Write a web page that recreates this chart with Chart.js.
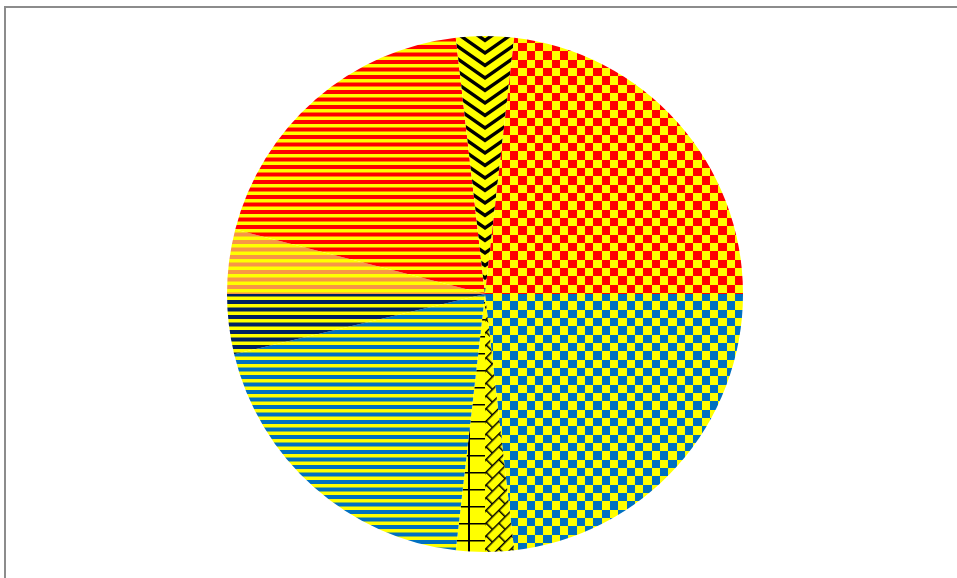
<!DOCTYPE html>
<html>
<head>
<meta charset="utf-8">
<script src="https://cdn.jsdelivr.net/npm/chart.js@4"></script>
<style>
  html, body { margin: 0; padding: 0; background: #fff; overflow: hidden; }
  #frame {
    position: absolute; left: 4px; top: 6px; width: 1200px; height: 800px;
    border-left: 2px solid #8c8c8c; border-top: 2px solid #8c8c8c;
  }
  #pie { position: absolute; left: 0; top: 0; }
</style>
</head>
<body>
<div id="frame"></div>
<canvas id="pie" width="957" height="578"></canvas>
<script>
// slices clockwise from 12 o'clock (in degrees)
const slices = ['Zig zag (right)', 'Red checker', 'Blue checker', 'Shingle', 'Grid',
  'Blue stripes', 'Navy stripes', 'Orange stripes', 'Red stripes', 'Zig zag (left)'];
const values = [6.5, 83.5, 83.5, 6.5, 6.5, 70, 13.5, 14.5, 69, 6.5];

const YELLOW = '#FFFF00';
const RED = '#FF0000';
const BLUE = '#0070C0';
const NAVY = '#002060';
const ORANGE = '#F79646';

// pie geometry in the page
const CX = 485, CY = 294, R = 258;

const canvas = document.getElementById('pie');
const ctx = canvas.getContext('2d');

function tile(w, h, draw) {
  const c = document.createElement('canvas');
  c.width = w;
  c.height = h;
  const g = c.getContext('2d');
  g.fillStyle = YELLOW;
  g.fillRect(0, 0, w, h);
  draw(g, w, h);
  return c;
}

function pattern(src, matrix) {
  const p = ctx.createPattern(src, 'repeat');
  if (matrix) p.setTransform(matrix);
  return p;
}

// 6x6 cells in a 50px tile, so each cell is ~8.33px
function checker(color) {
  const t = tile(50, 50, g => {
    g.fillStyle = color;
    const e = i => Math.round(i * 50 / 6);
    for (let i = 0; i < 6; i++) {
      for (let j = 0; j < 6; j++) {
        if ((i + j) % 2 === 0) g.fillRect(e(i), e(j), e(i + 1) - e(i), e(j + 1) - e(j));
      }
    }
  });
  return pattern(t, new DOMMatrix().translate(485, 293));
}

// two stripes per 15px tile
function stripes(color) {
  const t = tile(8, 15, g => {
    g.fillStyle = color;
    g.fillRect(0, 0, 8, 4);
    g.fillRect(0, 7.5, 8, 4);
  });
  return pattern(t);
}

function zigzag() {
  const t = tile(80, 25, g => {
    g.strokeStyle = '#000';
    g.lineWidth = 3.4;
    for (let k = -5; k <= 3; k++) {
      const y = k * 12.5;
      g.beginPath();
      g.moveTo(-10, y - 7);
      g.lineTo(40, y + 28);
      g.lineTo(90, y - 7);
      g.stroke();
    }
  });
  return pattern(t, new DOMMatrix().translate(CX - 40, 0));
}

function grid() {
  const t = tile(17, 17, g => {
    g.fillStyle = '#000';
    g.fillRect(0, 0, 2, 17);
    g.fillRect(0, 0, 17, 1.5);
  });
  return pattern(t, new DOMMatrix().translate(468, 506));
}

function shingle() {
  const t = tile(18, 18, g => {
    g.strokeStyle = '#000';
    g.lineWidth = 1.5;
    g.beginPath();
    g.moveTo(0, 0.75); g.lineTo(18, 0.75);
    g.moveTo(0, 9.75); g.lineTo(18, 9.75);
    g.moveTo(0.75, 0); g.lineTo(0.75, 9);
    g.moveTo(9.75, 9); g.lineTo(9.75, 18);
    g.stroke();
  });
  return pattern(t, new DOMMatrix().translate(CX, CY).rotate(-45));
}

const zig = zigzag();
const fills = [zig, checker(RED), checker(BLUE), shingle(), grid(),
  stripes(BLUE), stripes(NAVY), stripes(ORANGE), stripes(RED), zig];

new Chart(ctx, {
  type: 'pie',
  data: {
    labels: slices,
    datasets: [{
      data: values,
      backgroundColor: fills,
      borderWidth: 0
    }]
  },
  options: {
    responsive: false,
    animation: false,
    events: [],
    layout: {
      padding: { left: CX - R, right: 957 - CX - R, top: CY - R, bottom: 578 - CY - R }
    },
    plugins: {
      legend: { display: false },
      tooltip: { enabled: false }
    }
  }
});
</script>
</body>
</html>
